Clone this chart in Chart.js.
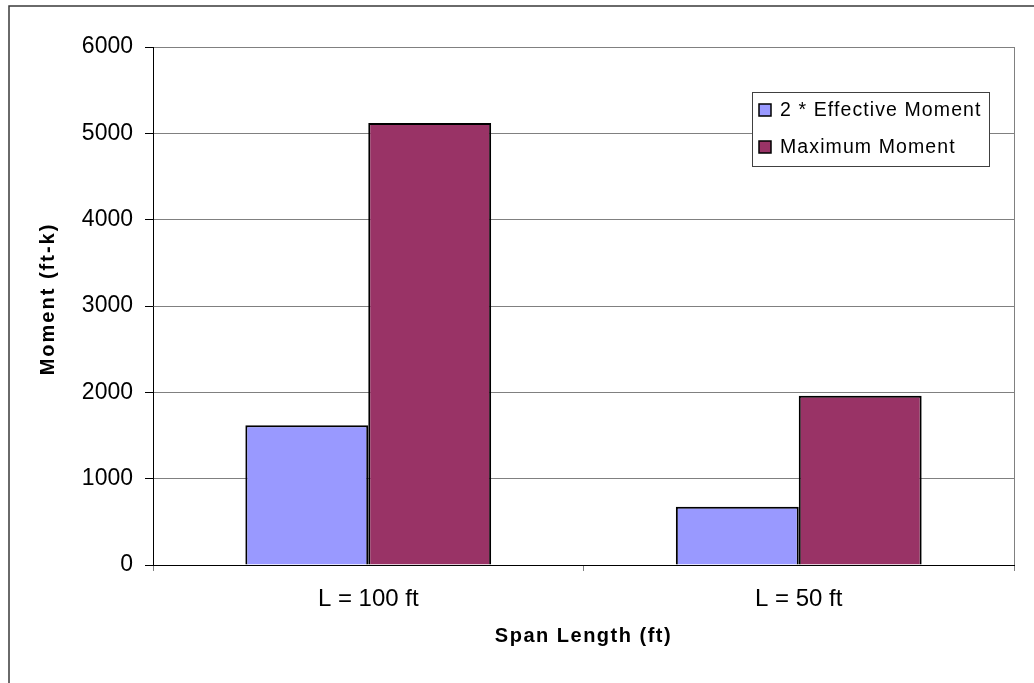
<!DOCTYPE html>
<html>
<head>
<meta charset="utf-8">
<script src="https://cdn.jsdelivr.net/npm/chart.js@4.4.1/dist/chart.umd.min.js"></script>
<style>
  html, body { margin: 0; padding: 0; background: #fff; }
  #wrap { width: 1034px; height: 683px; position: relative; }
</style>
</head>
<body>
<div id="wrap"><canvas id="chart" width="1034" height="683"></canvas></div>
<script>
// Span categories and moment values (ft-k)
const categories = ['L = 100 ft', 'L = 50 ft'];
const effectiveMoment2x = [1620, 675];
const maximumMoment = [5120, 1960];
const seriesNames = ['2 * Effective Moment', 'Maximum Moment'];
const yAxisTitle = 'Moment (ft-k)';
const xAxisTitle = 'Span Length (ft)';

const FONT = '"Liberation Sans", Arial, sans-serif';

// Frame, axis titles and the boxed legend inside the plot
const decorations = {
  id: 'decorations',
  afterDraw(chart) {
    const ctx = chart.ctx;
    const a = chart.chartArea;
    ctx.save();

    // outer chart frame
    ctx.strokeStyle = '#3a3a3a';
    ctx.lineWidth = 1.5;
    ctx.strokeRect(9, 6, 1200, 1200);

    // right edge of the plot area
    ctx.strokeStyle = '#808080';
    ctx.lineWidth = 1;
    ctx.beginPath();
    ctx.moveTo(Math.round(a.right) + 0.5, a.top);
    ctx.lineTo(Math.round(a.right) + 0.5, a.bottom);
    ctx.stroke();

    // axis titles
    ctx.fillStyle = '#000';
    ctx.font = 'bold 20px ' + FONT;
    ctx.letterSpacing = '1.5px';
    ctx.textAlign = 'center';
    ctx.textBaseline = 'middle';
    ctx.fillText(xAxisTitle, (a.left + a.right) / 2, 636);
    ctx.letterSpacing = '2px';
    ctx.save();
    ctx.translate(48, 299);
    ctx.rotate(-Math.PI / 2);
    ctx.fillText(yAxisTitle, 0, 0);
    ctx.restore();

    // legend
    const lx = 752, ly = 92, lw = 237, lh = 74;
    ctx.fillStyle = '#fff';
    ctx.fillRect(lx, ly, lw, lh);
    ctx.strokeStyle = '#404040';
    ctx.lineWidth = 1;
    ctx.strokeRect(lx + 0.5, ly + 0.5, lw, lh);
    ctx.font = '19.5px ' + FONT;
    ctx.letterSpacing = '1.1px';
    ctx.textAlign = 'left';
    chart.data.datasets.forEach((ds, i) => {
      const cy = 110 + i * 37;
      ctx.fillStyle = ds.backgroundColor;
      ctx.fillRect(759, cy - 6, 12, 12);
      ctx.strokeStyle = '#000';
      ctx.lineWidth = 1.5;
      ctx.strokeRect(759, cy - 6, 12, 12);
      ctx.fillStyle = '#000';
      ctx.fillText(ds.label, 780, cy + 1);
    });
    ctx.restore();
  }
};

new Chart(document.getElementById('chart'), {
  type: 'bar',
  data: {
    labels: categories,
    datasets: [
      {
        label: seriesNames[0],
        data: effectiveMoment2x,
        backgroundColor: '#9999FF',
        borderColor: '#000',
        borderWidth: 2,
        categoryPercentage: 0.571,
        barPercentage: 1.0
      },
      {
        label: seriesNames[1],
        data: maximumMoment,
        backgroundColor: '#993366',
        borderColor: '#000',
        borderWidth: 2,
        categoryPercentage: 0.571,
        barPercentage: 1.0
      }
    ]
  },
  options: {
    responsive: false,
    animation: false,
    devicePixelRatio: 1,
    layout: { padding: { top: 47, right: 20, bottom: 0, left: 0 } },
    plugins: {
      legend: { display: false },
      tooltip: { enabled: false }
    },
    scales: {
      x: {
        afterFit(scale) { scale.height = 118; },
        grid: {
          offset: true,
          drawOnChartArea: false,
          drawTicks: true,
          tickLength: 6,
          tickColor: '#808080'
        },
        border: { color: '#000', width: 1 },
        ticks: {
          color: '#000',
          padding: 14,
          maxRotation: 0,
          font: { family: FONT, size: 24 }
        }
      },
      y: {
        min: 0,
        max: 6000,
        afterFit(scale) { scale.width = 153; },
        grid: {
          color: '#808080',
          lineWidth: 1,
          tickLength: 8,
          tickColor: '#000'
        },
        border: { color: '#000', width: 1 },
        ticks: {
          stepSize: 1000,
          color: '#000',
          padding: 12,
          font: { family: FONT, size: 23 },
          callback: (v) => String(v)
        }
      }
    }
  },
  plugins: [decorations]
});
</script>
</body>
</html>
